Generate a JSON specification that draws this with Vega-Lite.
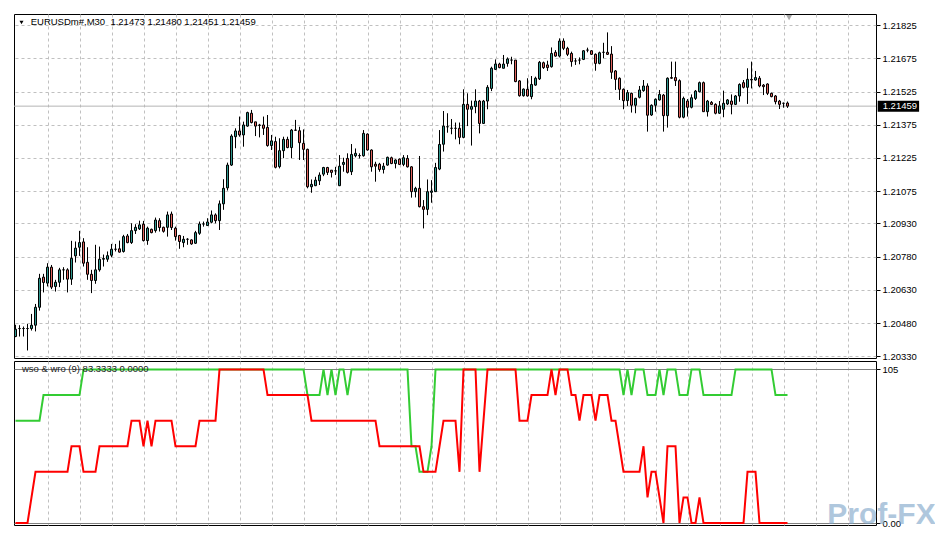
{
"$schema": "https://vega.github.io/schema/vega-lite/v6.json",
"background": "white",
"padding": {"left": 11, "top": 13, "right": 0, "bottom": 0},
"bounds": "flush",
"spacing": 3,
"config": {
 "view": {"stroke": "black", "strokeWidth": 1},
 "font": "Liberation Sans",
 "axis": {"title": null, "grid": true, "gridColor": "#c0c0c0", "gridDash": [3, 3], "gridWidth": 1, "labelFont": "Liberation Sans", "labelFontSize": 9.5, "labelColor": "black", "tickColor": "black", "tickSize": 4, "domain": false, "labelPadding": 2, "labelOverlap": false, "tickCount": 200},
 "axisX": {"labels": false, "ticks": false, "domain": false}
},
"datasets": {"d": [
{"i":0,"o":1.20419,"h":1.20472,"l":1.20416,"c":1.20452,"g":66.67,"r":0},
{"i":1,"o":1.20455,"h":1.20470,"l":1.20419,"c":1.20455,"g":66.67,"r":0},
{"i":2,"o":1.20455,"h":1.20464,"l":1.20419,"c":1.20455,"g":66.67,"r":0},
{"i":3,"o":1.20455,"h":1.20476,"l":1.20356,"c":1.20455,"g":66.67,"r":0},
{"i":4,"o":1.20455,"h":1.20521,"l":1.20446,"c":1.20470,"g":66.67,"r":16.67},
{"i":5,"o":1.20470,"h":1.20566,"l":1.20442,"c":1.20551,"g":66.67,"r":33.33},
{"i":6,"o":1.20551,"h":1.20702,"l":1.20536,"c":1.20682,"g":66.67,"r":33.33},
{"i":7,"o":1.20687,"h":1.20702,"l":1.20618,"c":1.20663,"g":83.33,"r":33.33},
{"i":8,"o":1.20660,"h":1.20750,"l":1.20645,"c":1.20732,"g":83.33,"r":33.33},
{"i":9,"o":1.20732,"h":1.20742,"l":1.20633,"c":1.20642,"g":83.33,"r":33.33},
{"i":10,"o":1.20645,"h":1.20675,"l":1.20622,"c":1.20664,"g":83.33,"r":33.33},
{"i":11,"o":1.20664,"h":1.20729,"l":1.20642,"c":1.20720,"g":83.33,"r":33.33},
{"i":12,"o":1.20720,"h":1.20732,"l":1.20675,"c":1.20720,"g":83.33,"r":33.33},
{"i":13,"o":1.20720,"h":1.20727,"l":1.20618,"c":1.20678,"g":83.33,"r":33.33},
{"i":14,"o":1.20678,"h":1.20851,"l":1.20652,"c":1.20772,"g":83.33,"r":50},
{"i":15,"o":1.20783,"h":1.20848,"l":1.20753,"c":1.20818,"g":83.33,"r":50},
{"i":16,"o":1.20822,"h":1.20896,"l":1.20783,"c":1.20843,"g":83.33,"r":50},
{"i":17,"o":1.20846,"h":1.20863,"l":1.20735,"c":1.20750,"g":100,"r":33.33},
{"i":18,"o":1.20754,"h":1.20822,"l":1.20675,"c":1.20700,"g":100,"r":33.33},
{"i":19,"o":1.20700,"h":1.20720,"l":1.20615,"c":1.20672,"g":100,"r":33.33},
{"i":20,"o":1.20672,"h":1.20833,"l":1.20657,"c":1.20720,"g":100,"r":33.33},
{"i":21,"o":1.20720,"h":1.20825,"l":1.20712,"c":1.20768,"g":100,"r":50},
{"i":22,"o":1.20768,"h":1.20789,"l":1.20735,"c":1.20771,"g":100,"r":50},
{"i":23,"o":1.20768,"h":1.20803,"l":1.20756,"c":1.20784,"g":100,"r":50},
{"i":24,"o":1.20786,"h":1.20837,"l":1.20777,"c":1.20813,"g":100,"r":50},
{"i":25,"o":1.20813,"h":1.20837,"l":1.20803,"c":1.20813,"g":100,"r":50},
{"i":26,"o":1.20815,"h":1.20852,"l":1.20798,"c":1.20800,"g":100,"r":50},
{"i":27,"o":1.20803,"h":1.20878,"l":1.20798,"c":1.20870,"g":100,"r":50},
{"i":28,"o":1.20873,"h":1.20882,"l":1.20840,"c":1.20843,"g":100,"r":50},
{"i":29,"o":1.20843,"h":1.20930,"l":1.20837,"c":1.20897,"g":100,"r":66.67},
{"i":30,"o":1.20897,"h":1.20926,"l":1.20882,"c":1.20912,"g":100,"r":66.67},
{"i":31,"o":1.20905,"h":1.20942,"l":1.20900,"c":1.20923,"g":100,"r":66.67},
{"i":32,"o":1.20926,"h":1.20941,"l":1.20848,"c":1.20852,"g":100,"r":50},
{"i":33,"o":1.20852,"h":1.20915,"l":1.20833,"c":1.20908,"g":100,"r":66.67},
{"i":34,"o":1.20903,"h":1.20906,"l":1.20885,"c":1.20888,"g":100,"r":50},
{"i":35,"o":1.20897,"h":1.20956,"l":1.20888,"c":1.20945,"g":100,"r":66.67},
{"i":36,"o":1.20942,"h":1.20953,"l":1.20893,"c":1.20911,"g":100,"r":66.67},
{"i":37,"o":1.20912,"h":1.20915,"l":1.20888,"c":1.20894,"g":100,"r":66.67},
{"i":38,"o":1.20912,"h":1.20983,"l":1.20870,"c":1.20968,"g":100,"r":66.67},
{"i":39,"o":1.20972,"h":1.20983,"l":1.20900,"c":1.20911,"g":100,"r":66.67},
{"i":40,"o":1.20908,"h":1.20915,"l":1.20852,"c":1.20870,"g":100,"r":50},
{"i":41,"o":1.20875,"h":1.20878,"l":1.20815,"c":1.20848,"g":100,"r":50},
{"i":42,"o":1.20843,"h":1.20873,"l":1.20822,"c":1.20858,"g":100,"r":50},
{"i":43,"o":1.20858,"h":1.20863,"l":1.20833,"c":1.20858,"g":100,"r":50},
{"i":44,"o":1.20855,"h":1.20858,"l":1.20833,"c":1.20837,"g":100,"r":50},
{"i":45,"o":1.20840,"h":1.20896,"l":1.20837,"c":1.20888,"g":100,"r":50},
{"i":46,"o":1.20885,"h":1.20938,"l":1.20878,"c":1.20927,"g":100,"r":66.67},
{"i":47,"o":1.20927,"h":1.20938,"l":1.20915,"c":1.20927,"g":100,"r":66.67},
{"i":48,"o":1.20920,"h":1.20953,"l":1.20918,"c":1.20936,"g":100,"r":66.67},
{"i":49,"o":1.20935,"h":1.20988,"l":1.20930,"c":1.20968,"g":100,"r":66.67},
{"i":50,"o":1.20968,"h":1.20975,"l":1.20930,"c":1.20942,"g":100,"r":66.67},
{"i":51,"o":1.20942,"h":1.21033,"l":1.20900,"c":1.21018,"g":100,"r":100},
{"i":52,"o":1.21018,"h":1.21129,"l":1.20991,"c":1.21088,"g":100,"r":100},
{"i":53,"o":1.21090,"h":1.21204,"l":1.21078,"c":1.21193,"g":100,"r":100},
{"i":54,"o":1.21193,"h":1.21332,"l":1.21189,"c":1.21324,"g":100,"r":100},
{"i":55,"o":1.21321,"h":1.21359,"l":1.21269,"c":1.21347,"g":100,"r":100},
{"i":56,"o":1.21347,"h":1.21412,"l":1.21321,"c":1.21329,"g":100,"r":100},
{"i":57,"o":1.21329,"h":1.21389,"l":1.21276,"c":1.21374,"g":100,"r":100},
{"i":58,"o":1.21369,"h":1.21434,"l":1.21366,"c":1.21430,"g":100,"r":100},
{"i":59,"o":1.21427,"h":1.21442,"l":1.21381,"c":1.21385,"g":100,"r":100},
{"i":60,"o":1.21388,"h":1.21388,"l":1.21324,"c":1.21369,"g":100,"r":100},
{"i":61,"o":1.21374,"h":1.21379,"l":1.21318,"c":1.21372,"g":100,"r":100},
{"i":62,"o":1.21374,"h":1.21412,"l":1.21329,"c":1.21359,"g":100,"r":100},
{"i":63,"o":1.21363,"h":1.21419,"l":1.21276,"c":1.21281,"g":100,"r":83.33},
{"i":64,"o":1.21281,"h":1.21329,"l":1.21261,"c":1.21302,"g":100,"r":83.33},
{"i":65,"o":1.21299,"h":1.21321,"l":1.21178,"c":1.21183,"g":100,"r":83.33},
{"i":66,"o":1.21186,"h":1.21314,"l":1.21178,"c":1.21258,"g":100,"r":83.33},
{"i":67,"o":1.21258,"h":1.21321,"l":1.21224,"c":1.21309,"g":100,"r":83.33},
{"i":68,"o":1.21309,"h":1.21321,"l":1.21269,"c":1.21272,"g":100,"r":83.33},
{"i":69,"o":1.21272,"h":1.21356,"l":1.21224,"c":1.21351,"g":100,"r":83.33},
{"i":70,"o":1.21351,"h":1.21397,"l":1.21347,"c":1.21350,"g":100,"r":83.33},
{"i":71,"o":1.21348,"h":1.21366,"l":1.21216,"c":1.21294,"g":100,"r":83.33},
{"i":72,"o":1.21291,"h":1.21354,"l":1.21216,"c":1.21264,"g":100,"r":83.33},
{"i":73,"o":1.21264,"h":1.21267,"l":1.21088,"c":1.21095,"g":83.33,"r":83.33},
{"i":74,"o":1.21095,"h":1.21128,"l":1.21068,"c":1.21106,"g":83.33,"r":66.67},
{"i":75,"o":1.21100,"h":1.21140,"l":1.21098,"c":1.21125,"g":83.33,"r":66.67},
{"i":76,"o":1.21122,"h":1.21160,"l":1.21103,"c":1.21148,"g":83.33,"r":66.67},
{"i":77,"o":1.21152,"h":1.21185,"l":1.21143,"c":1.21182,"g":100,"r":66.67},
{"i":78,"o":1.21182,"h":1.21185,"l":1.21148,"c":1.21160,"g":83.33,"r":66.67},
{"i":79,"o":1.21170,"h":1.21170,"l":1.21137,"c":1.21160,"g":100,"r":66.67},
{"i":80,"o":1.21167,"h":1.21185,"l":1.21148,"c":1.21167,"g":83.33,"r":66.67},
{"i":81,"o":1.21100,"h":1.21238,"l":1.21098,"c":1.21188,"g":100,"r":66.67},
{"i":82,"o":1.21196,"h":1.21226,"l":1.21163,"c":1.21205,"g":100,"r":66.67},
{"i":83,"o":1.21223,"h":1.21246,"l":1.21155,"c":1.21160,"g":83.33,"r":66.67},
{"i":84,"o":1.21163,"h":1.21288,"l":1.21148,"c":1.21241,"g":100,"r":66.67},
{"i":85,"o":1.21235,"h":1.21268,"l":1.21228,"c":1.21246,"g":100,"r":66.67},
{"i":86,"o":1.21236,"h":1.21246,"l":1.21223,"c":1.21235,"g":100,"r":66.67},
{"i":87,"o":1.21235,"h":1.21351,"l":1.21231,"c":1.21336,"g":100,"r":66.67},
{"i":88,"o":1.21333,"h":1.21336,"l":1.21258,"c":1.21261,"g":100,"r":66.67},
{"i":89,"o":1.21261,"h":1.21264,"l":1.21163,"c":1.21185,"g":100,"r":66.67},
{"i":90,"o":1.21197,"h":1.21208,"l":1.21118,"c":1.21188,"g":100,"r":66.67},
{"i":91,"o":1.21197,"h":1.21203,"l":1.21163,"c":1.21173,"g":100,"r":50},
{"i":92,"o":1.21173,"h":1.21203,"l":1.21155,"c":1.21188,"g":100,"r":50},
{"i":93,"o":1.21193,"h":1.21231,"l":1.21190,"c":1.21228,"g":100,"r":50},
{"i":94,"o":1.21226,"h":1.21231,"l":1.21197,"c":1.21200,"g":100,"r":50},
{"i":95,"o":1.21200,"h":1.21219,"l":1.21178,"c":1.21216,"g":100,"r":50},
{"i":96,"o":1.21220,"h":1.21223,"l":1.21193,"c":1.21196,"g":100,"r":50},
{"i":97,"o":1.21196,"h":1.21238,"l":1.21188,"c":1.21226,"g":100,"r":50},
{"i":98,"o":1.21223,"h":1.21238,"l":1.21182,"c":1.21185,"g":100,"r":50},
{"i":99,"o":1.21185,"h":1.21188,"l":1.21046,"c":1.21073,"g":50,"r":50},
{"i":100,"o":1.21073,"h":1.21095,"l":1.21047,"c":1.21088,"g":50,"r":50},
{"i":101,"o":1.21088,"h":1.21234,"l":1.21002,"c":1.21005,"g":33.33,"r":50},
{"i":102,"o":1.21005,"h":1.21035,"l":1.20907,"c":1.20993,"g":33.33,"r":33.33},
{"i":103,"o":1.20993,"h":1.21128,"l":1.20967,"c":1.21073,"g":33.33,"r":33.33},
{"i":104,"o":1.21070,"h":1.21125,"l":1.21023,"c":1.21076,"g":50,"r":33.33},
{"i":105,"o":1.21073,"h":1.21203,"l":1.21073,"c":1.21182,"g":100,"r":33.33},
{"i":106,"o":1.21175,"h":1.21351,"l":1.21170,"c":1.21286,"g":100,"r":50},
{"i":107,"o":1.21287,"h":1.21437,"l":1.21254,"c":1.21369,"g":100,"r":66.67},
{"i":108,"o":1.21366,"h":1.21427,"l":1.21339,"c":1.21366,"g":100,"r":66.67},
{"i":109,"o":1.21359,"h":1.21401,"l":1.21332,"c":1.21359,"g":100,"r":66.67},
{"i":110,"o":1.21359,"h":1.21385,"l":1.21309,"c":1.21359,"g":100,"r":66.67},
{"i":111,"o":1.21359,"h":1.21385,"l":1.21287,"c":1.21318,"g":100,"r":33.33},
{"i":112,"o":1.21318,"h":1.21535,"l":1.21314,"c":1.21467,"g":100,"r":100},
{"i":113,"o":1.21467,"h":1.21517,"l":1.21369,"c":1.21445,"g":100,"r":100},
{"i":114,"o":1.21445,"h":1.21484,"l":1.21281,"c":1.21457,"g":100,"r":100},
{"i":115,"o":1.21457,"h":1.21535,"l":1.21427,"c":1.21482,"g":100,"r":100},
{"i":116,"o":1.21482,"h":1.21487,"l":1.21336,"c":1.21381,"g":100,"r":33.33},
{"i":117,"o":1.21381,"h":1.21487,"l":1.21379,"c":1.21482,"g":100,"r":66.67},
{"i":118,"o":1.21482,"h":1.21554,"l":1.21445,"c":1.21544,"g":100,"r":100},
{"i":119,"o":1.21539,"h":1.21637,"l":1.21527,"c":1.21630,"g":100,"r":100},
{"i":120,"o":1.21625,"h":1.21670,"l":1.21622,"c":1.21649,"g":100,"r":100},
{"i":121,"o":1.21649,"h":1.21655,"l":1.21630,"c":1.21633,"g":100,"r":100},
{"i":122,"o":1.21630,"h":1.21690,"l":1.21630,"c":1.21649,"g":100,"r":100},
{"i":123,"o":1.21652,"h":1.21679,"l":1.21637,"c":1.21672,"g":100,"r":100},
{"i":124,"o":1.21667,"h":1.21682,"l":1.21648,"c":1.21667,"g":100,"r":100},
{"i":125,"o":1.21667,"h":1.21667,"l":1.21567,"c":1.21570,"g":100,"r":100},
{"i":126,"o":1.21573,"h":1.21577,"l":1.21502,"c":1.21506,"g":100,"r":66.67},
{"i":127,"o":1.21506,"h":1.21539,"l":1.21502,"c":1.21536,"g":100,"r":66.67},
{"i":128,"o":1.21535,"h":1.21585,"l":1.21502,"c":1.21505,"g":100,"r":66.67},
{"i":129,"o":1.21502,"h":1.21595,"l":1.21490,"c":1.21557,"g":100,"r":83.33},
{"i":130,"o":1.21554,"h":1.21592,"l":1.21551,"c":1.21585,"g":100,"r":83.33},
{"i":131,"o":1.21582,"h":1.21663,"l":1.21577,"c":1.21657,"g":100,"r":83.33},
{"i":132,"o":1.21655,"h":1.21660,"l":1.21627,"c":1.21633,"g":100,"r":83.33},
{"i":133,"o":1.21645,"h":1.21664,"l":1.21618,"c":1.21633,"g":100,"r":83.33},
{"i":134,"o":1.21637,"h":1.21724,"l":1.21633,"c":1.21697,"g":100,"r":100},
{"i":135,"o":1.21702,"h":1.21712,"l":1.21682,"c":1.21685,"g":100,"r":83.33},
{"i":136,"o":1.21685,"h":1.21765,"l":1.21679,"c":1.21753,"g":100,"r":100},
{"i":137,"o":1.21753,"h":1.21765,"l":1.21712,"c":1.21720,"g":100,"r":100},
{"i":138,"o":1.21720,"h":1.21727,"l":1.21685,"c":1.21693,"g":100,"r":100},
{"i":139,"o":1.21697,"h":1.21705,"l":1.21637,"c":1.21660,"g":100,"r":83.33},
{"i":140,"o":1.21663,"h":1.21675,"l":1.21645,"c":1.21663,"g":100,"r":83.33},
{"i":141,"o":1.21667,"h":1.21679,"l":1.21648,"c":1.21667,"g":100,"r":66.67},
{"i":142,"o":1.21670,"h":1.21712,"l":1.21667,"c":1.21709,"g":100,"r":83.33},
{"i":143,"o":1.21712,"h":1.21723,"l":1.21702,"c":1.21712,"g":100,"r":83.33},
{"i":144,"o":1.21709,"h":1.21712,"l":1.21690,"c":1.21693,"g":100,"r":83.33},
{"i":145,"o":1.21693,"h":1.21697,"l":1.21619,"c":1.21652,"g":100,"r":66.67},
{"i":146,"o":1.21652,"h":1.21705,"l":1.21648,"c":1.21700,"g":100,"r":83.33},
{"i":147,"o":1.21702,"h":1.21745,"l":1.21675,"c":1.21702,"g":100,"r":83.33},
{"i":148,"o":1.21702,"h":1.21792,"l":1.21690,"c":1.21693,"g":100,"r":83.33},
{"i":149,"o":1.21694,"h":1.21730,"l":1.21582,"c":1.21612,"g":100,"r":66.67},
{"i":150,"o":1.21618,"h":1.21622,"l":1.21532,"c":1.21580,"g":100,"r":66.67},
{"i":151,"o":1.21585,"h":1.21589,"l":1.21487,"c":1.21535,"g":100,"r":50},
{"i":152,"o":1.21535,"h":1.21539,"l":1.21445,"c":1.21484,"g":83.33,"r":33.33},
{"i":153,"o":1.21484,"h":1.21532,"l":1.21460,"c":1.21520,"g":100,"r":33.33},
{"i":154,"o":1.21517,"h":1.21520,"l":1.21430,"c":1.21463,"g":83.33,"r":33.33},
{"i":155,"o":1.21463,"h":1.21497,"l":1.21427,"c":1.21494,"g":100,"r":33.33},
{"i":156,"o":1.21499,"h":1.21550,"l":1.21494,"c":1.21532,"g":100,"r":33.33},
{"i":157,"o":1.21529,"h":1.21577,"l":1.21524,"c":1.21550,"g":100,"r":50},
{"i":158,"o":1.21550,"h":1.21562,"l":1.21344,"c":1.21418,"g":83.33,"r":16.67},
{"i":159,"o":1.21419,"h":1.21467,"l":1.21415,"c":1.21463,"g":83.33,"r":33.33},
{"i":160,"o":1.21463,"h":1.21494,"l":1.21434,"c":1.21490,"g":83.33,"r":33.33},
{"i":161,"o":1.21487,"h":1.21532,"l":1.21484,"c":1.21512,"g":100,"r":16.67},
{"i":162,"o":1.21509,"h":1.21514,"l":1.21344,"c":1.21416,"g":83.33,"r":0},
{"i":163,"o":1.21416,"h":1.21589,"l":1.21362,"c":1.21585,"g":100,"r":50},
{"i":164,"o":1.21588,"h":1.21660,"l":1.21582,"c":1.21585,"g":100,"r":50},
{"i":165,"o":1.21588,"h":1.21660,"l":1.21550,"c":1.21574,"g":100,"r":50},
{"i":166,"o":1.21574,"h":1.21580,"l":1.21404,"c":1.21409,"g":83.33,"r":0},
{"i":167,"o":1.21409,"h":1.21502,"l":1.21404,"c":1.21494,"g":83.33,"r":16.67},
{"i":168,"o":1.21482,"h":1.21491,"l":1.21412,"c":1.21454,"g":83.33,"r":16.67},
{"i":169,"o":1.21454,"h":1.21512,"l":1.21449,"c":1.21497,"g":100,"r":0},
{"i":170,"o":1.21494,"h":1.21532,"l":1.21487,"c":1.21527,"g":100,"r":0},
{"i":171,"o":1.21524,"h":1.21570,"l":1.21521,"c":1.21565,"g":100,"r":16.67},
{"i":172,"o":1.21565,"h":1.21570,"l":1.21434,"c":1.21434,"g":83.33,"r":0},
{"i":173,"o":1.21434,"h":1.21487,"l":1.21412,"c":1.21482,"g":83.33,"r":0},
{"i":174,"o":1.21476,"h":1.21482,"l":1.21464,"c":1.21467,"g":83.33,"r":0},
{"i":175,"o":1.21467,"h":1.21472,"l":1.21422,"c":1.21427,"g":83.33,"r":0},
{"i":176,"o":1.21427,"h":1.21482,"l":1.21424,"c":1.21460,"g":83.33,"r":0},
{"i":177,"o":1.21445,"h":1.21529,"l":1.21409,"c":1.21472,"g":83.33,"r":0},
{"i":178,"o":1.21469,"h":1.21491,"l":1.21464,"c":1.21487,"g":83.33,"r":0},
{"i":179,"o":1.21482,"h":1.21512,"l":1.21422,"c":1.21467,"g":83.33,"r":0},
{"i":180,"o":1.21467,"h":1.21509,"l":1.21464,"c":1.21505,"g":100,"r":0},
{"i":181,"o":1.21505,"h":1.21562,"l":1.21479,"c":1.21557,"g":100,"r":0},
{"i":182,"o":1.21565,"h":1.21577,"l":1.21539,"c":1.21544,"g":100,"r":0},
{"i":183,"o":1.21544,"h":1.21630,"l":1.21469,"c":1.21580,"g":100,"r":33.33},
{"i":184,"o":1.21580,"h":1.21660,"l":1.21539,"c":1.21577,"g":100,"r":33.33},
{"i":185,"o":1.21577,"h":1.21618,"l":1.21574,"c":1.21588,"g":100,"r":33.33},
{"i":186,"o":1.21585,"h":1.21595,"l":1.21544,"c":1.21550,"g":100,"r":0},
{"i":187,"o":1.21554,"h":1.21559,"l":1.21509,"c":1.21547,"g":100,"r":0},
{"i":188,"o":1.21559,"h":1.21562,"l":1.21509,"c":1.21517,"g":100,"r":0},
{"i":189,"o":1.21517,"h":1.21520,"l":1.21499,"c":1.21502,"g":100,"r":0},
{"i":190,"o":1.21505,"h":1.21509,"l":1.21467,"c":1.21479,"g":83.33,"r":0},
{"i":191,"o":1.21482,"h":1.21487,"l":1.21446,"c":1.21467,"g":83.33,"r":0},
{"i":192,"o":1.21472,"h":1.21475,"l":1.21452,"c":1.21472,"g":83.33,"r":0},
{"i":193,"o":1.21473,"h":1.21480,"l":1.21451,"c":1.21459,"g":83.33,"r":0}
]},
"vconcat": [
{
 "width": 862, "height": 344,
 "layer": [
  {"data": {"values": [{"p": 1.21459}]},
   "mark": {"type": "rule", "color": "#b4b4b4", "strokeWidth": 1},
   "encoding": {"y": {"field": "p", "type": "quantitative", "title": null,
     "scale": {"domain": [1.20322, 1.21875], "nice": false, "zero": false, "padding": 0},
     "axis": {"orient": "right", "values": [1.21825, 1.21675, 1.21525, 1.21375, 1.21225, 1.21075, 1.2093, 1.2078, 1.2063, 1.2048, 1.2033], "format": ".5f", "tickCount": 200}}}},
  {"data": {"name": "d"},
   "mark": {"type": "rule", "color": "black", "strokeWidth": 1},
   "encoding": {
    "x": {"field": "i", "type": "quantitative", "title": null, "scale": {"domain": [-0.375, 215.125], "nice": false, "zero": false, "padding": 0},
      "axis": {"values": [8,16,24,32,40,48,56,64,72,80,88,96,104,112,120,128,136,144,152,160,168,176,184,192,200,208], "tickCount": 200}},
    "y": {"field": "l", "type": "quantitative", "title": null},
    "y2": {"field": "h"}}},
  {"data": {"name": "d"},
   "mark": {"type": "bar", "size": 2, "stroke": "black", "strokeWidth": 1, "orient": "vertical"},
   "encoding": {
    "x": {"field": "i", "type": "quantitative", "title": null},
    "y": {"field": "o", "type": "quantitative", "title": null},
    "y2": {"field": "c"},
    "fill": {"condition": {"test": "datum.c >= datum.o", "value": "#2f978e"}, "value": "#e0625c"}}},
  {"data": {"values": [{"p": 1.21459, "t": "1.21459"}]},
   "mark": {"type": "rect", "color": "black"},
   "encoding": {"x": {"datum": 215.55}, "x2": {"datum": 225.9}, "y": {"datum": 1.21483}, "y2": {"datum": 1.21434}}},
  {"data": {"values": [{"p": 1.21459, "t": "1.21459"}]},
   "mark": {"type": "text", "color": "white", "align": "left", "baseline": "middle", "fontSize": 9.5, "font": "Liberation Sans", "dx": 5},
   "encoding": {"x": {"datum": 215.55}, "y": {"field": "p", "type": "quantitative"}, "text": {"field": "t"}}},
  {"data": {"values": [{"t": "EURUSDm#,M30\u00a0 1.21473 1.21480 1.21451 1.21459"}]},
   "mark": {"type": "text", "color": "black", "align": "left", "baseline": "middle", "fontSize": 9.5, "font": "Liberation Sans"},
   "encoding": {"x": {"datum": 3.8}, "y": {"datum": 1.21839}, "text": {"field": "t"}}},
  {"data": {"values": [{"s": "marker"}]},
   "mark": {"type": "point", "shape": "triangle-down", "filled": true, "color": "black", "size": 16, "opacity": 1},
   "encoding": {"x": {"datum": 1.5}, "y": {"datum": 1.21837}}},
  {"data": {"values": [{"s": "shift"}]},
   "mark": {"type": "point", "shape": "triangle-down", "filled": true, "color": "#a8a8a8", "size": 36, "opacity": 1},
   "encoding": {"x": {"datum": 193.4}, "y": {"datum": 1.21859}}}
 ]
},
{
 "width": 862, "height": 164,
 "layer": [
  {"data": {"name": "d"},
   "mark": {"type": "line", "color": "#33cc33", "strokeWidth": 2},
   "encoding": {
    "x": {"field": "i", "type": "quantitative", "title": null, "scale": {"domain": [-0.375, 215.125], "nice": false, "zero": false, "padding": 0},
      "axis": {"values": [8,16,24,32,40,48,56,64,72,80,88,96,104,112,120,128,136,144,152,160,168,176,184,192,200,208], "tickCount": 200}},
    "y": {"field": "g", "type": "quantitative", "title": null, "scale": {"domain": [-1.3, 105.5], "nice": false, "zero": false, "padding": 0},
      "axis": {"orient": "right", "values": [100, 0], "labelExpr": "datum.value == 100 ? '105' : '0.00'", "gridDash": [], "gridColor": "#808080"}}}},
  {"data": {"name": "d"},
   "mark": {"type": "line", "color": "#ff0000", "strokeWidth": 2},
   "encoding": {
    "x": {"field": "i", "type": "quantitative"},
    "y": {"field": "r", "type": "quantitative"}}},
  {"data": {"values": [{"t": "wso & wro (9) 83.3333 0.0000"}]},
   "mark": {"type": "text", "color": "#222222", "align": "left", "baseline": "middle", "fontSize": 9.5, "font": "Liberation Sans"},
   "encoding": {"x": {"datum": 1.6}, "y": {"datum": 100}, "text": {"field": "t"}}},
  {"data": {"values": [{"t": "Prof-FX"}]},
   "mark": {"type": "text", "color": "#7ba3c8", "opacity": 0.6, "align": "center", "baseline": "middle", "fontSize": 30, "fontWeight": "bold", "font": "Liberation Sans"},
   "encoding": {"x": {"datum": 216.5}, "y": {"datum": 5}, "text": {"field": "t"}}}
 ]
}
]
}
